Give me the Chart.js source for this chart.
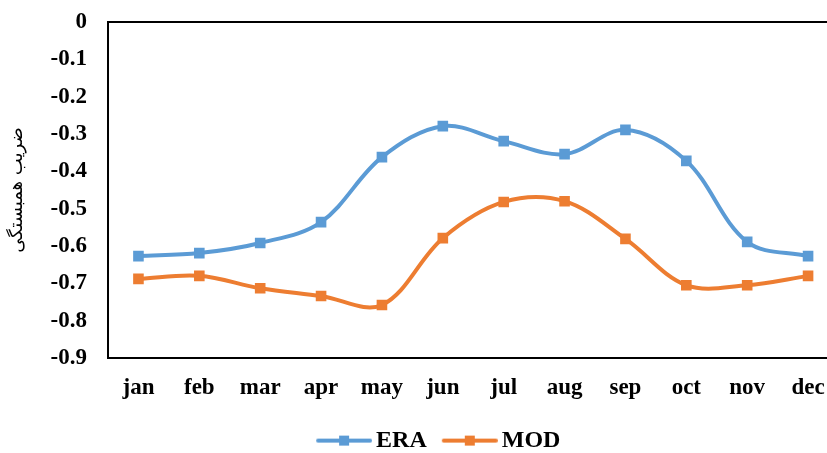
<!DOCTYPE html>
<html>
<head>
<meta charset="utf-8">
<script src="https://cdn.jsdelivr.net/npm/chart.js@4/dist/chart.umd.min.js"></script>
<style>
  html, body { margin: 0; padding: 0; background: #fff; overflow: hidden; }
  #wrap { width: 860px; height: 453px; }
</style>
</head>
<body>
<div id="wrap"><canvas id="grafik" width="860" height="453"></canvas></div>
<script>
// data
var months = ['jan', 'feb', 'mar', 'apr', 'may', 'jun', 'jul', 'aug', 'sep', 'oct', 'nov', 'dec']
var eraValues = [-0.627, -0.619, -0.592, -0.536, -0.362, -0.279, -0.319, -0.354, -0.289, -0.372, -0.589, -0.627]
var modValues = [-0.688, -0.680, -0.713, -0.734, -0.758, -0.579, -0.482, -0.480, -0.581, -0.705, -0.705, -0.680]
var seriesNames = ['ERA', 'MOD']
var yTitle = 'ضریب همبستگی'
var yMin = -0.9, yMax = 0, yStep = 0.1

var blue = '#5B9BD5'
var orange = '#ED7D31'
var serif = "'Liberation Serif', 'Times New Roman', serif"

// legend swatch: line with a square marker in the middle (blank margin on the left)
function swatch(color) {
  var c = document.createElement('canvas')
  c.width = 68; c.height = 14
  var g = c.getContext('2d')
  g.strokeStyle = color
  g.lineWidth = 4
  g.lineCap = 'round'
  g.beginPath(); g.moveTo(14, 7); g.lineTo(66, 7); g.stroke()
  g.fillStyle = color
  g.fillRect(35, 2, 10, 10)
  return c
}

// plot frame (top, left, bottom)
var frame = {
  id: 'frame',
  beforeDatasetsDraw(chart) {
    var a = chart.chartArea, ctx = chart.ctx
    ctx.save()
    ctx.strokeStyle = '#000'
    ctx.lineWidth = 2
    ctx.strokeRect(a.left, a.top, a.right - a.left, a.bottom - a.top)
    ctx.restore()
  }
}

// nudge the legend so it sits where Excel put it
var legendShift = {
  id: 'legendShift',
  afterLayout(chart) {
    chart.legend.left += 17
    chart.legend.right += 17
  }
}

Chart.defaults.color = '#000'

var chart = new Chart(document.getElementById('grafik'), {
  type: 'line',
  data: {
    labels: months,
    datasets: [{
      label: seriesNames[0],
      data: eraValues,
      borderColor: blue,
      backgroundColor: blue,
      borderWidth: 4,
      tension: 0.35,
      borderCapStyle: 'round',
      borderJoinStyle: 'round',
      pointStyle: 'rect',
      pointRadius: 7.5,
      pointBorderWidth: 0,
      pointBackgroundColor: blue
    }, {
      label: seriesNames[1],
      data: modValues,
      borderColor: orange,
      backgroundColor: orange,
      borderWidth: 4,
      tension: 0.35,
      borderCapStyle: 'round',
      borderJoinStyle: 'round',
      pointStyle: 'rect',
      pointRadius: 7.5,
      pointBorderWidth: 0,
      pointBackgroundColor: orange
    }]
  },
  options: {
    responsive: false,
    animation: false,
    layout: { padding: { top: 22, left: 0, right: 21.5, bottom: -9.6 } },
    plugins: {
      tooltip: { enabled: false },
      legend: {
        position: 'bottom',
        labels: {
          usePointStyle: true,
          pointStyleWidth: 52,
          padding: 11,
          font: { family: serif, size: 24, weight: 'bold' },
          generateLabels: function(chart) {
            return chart.data.datasets.map(function(ds, i) {
              return {
                text: ds.label,
                pointStyle: swatch(ds.borderColor),
                fillStyle: ds.borderColor,
                strokeStyle: ds.borderColor,
                lineWidth: 0,
                hidden: false,
                datasetIndex: i
              }
            })
          }
        }
      }
    },
    scales: {
      x: {
        offset: true,
        grid: { display: false, drawTicks: false, offset: true },
        border: { display: false },
        ticks: { padding: 16, font: { family: serif, size: 23, weight: 'bold' } }
      },
      y: {
        min: yMin,
        max: yMax,
        grid: { display: true, drawOnChartArea: false, drawTicks: true, tickLength: 18, color: 'rgba(0,0,0,0)' },
        border: { display: false },
        ticks: {
          stepSize: yStep,
          padding: 3,
          font: { family: serif, size: 23, weight: 'bold' },
          callback: function(v) { return Math.abs(v) < 1e-9 ? '0' : v.toFixed(1) }
        },
        title: {
          display: true,
          text: yTitle,
          font: { family: "'DejaVu Sans', sans-serif", size: 18 },
          padding: { top: 7, bottom: 19 }
        }
      }
    }
  },
  plugins: [frame, legendShift]
})
</script>
</body>
</html>
